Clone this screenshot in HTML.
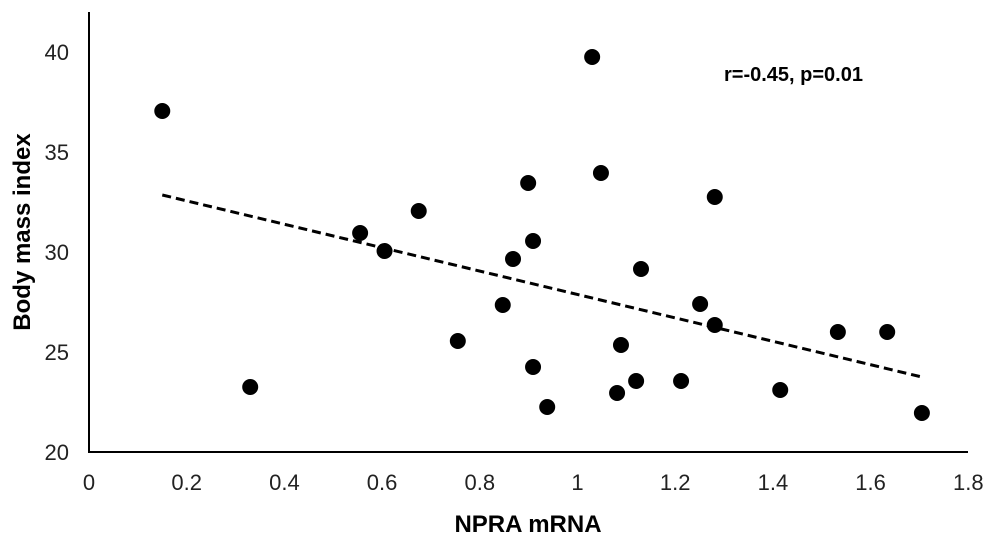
<!DOCTYPE html>
<html><head><meta charset="utf-8"><style>
body{margin:0;background:#fff;}
svg{display:block;font-family:"Liberation Sans",Arial,sans-serif;}
</style></head><body>
<svg id="chart" width="1000" height="539" viewBox="0 0 1000 539">
<g id="axes"></g><g id="marks"></g>
<text x="528" y="532" text-anchor="middle" font-size="24" font-weight="bold">NPRA mRNA</text>
<text transform="translate(30,232) rotate(-90)" text-anchor="middle" font-size="24" font-weight="bold">Body mass index</text>
<text x="724" y="81" font-size="20" font-weight="bold">r=-0.45, p=0.01</text>
</svg>
<script>
const xVals=[0.15,0.33,0.555,0.605,0.675,0.755,0.847,0.868,0.899,0.909,0.909,0.938,1.03,1.048,1.081,1.089,1.12,1.13,1.212,1.251,1.281,1.281,1.415,1.533,1.634,1.705];
const yVals=[37.05,23.25,30.95,30.05,32.05,25.55,27.35,29.65,33.45,30.55,24.25,22.25,39.75,33.95,22.95,25.35,23.55,29.15,23.55,27.4,32.75,26.35,23.1,26.0,26.0,21.95];
const trendX=[0.15,1.705];
const trendY=[32.85,23.75];
const xTicks=[0,0.2,0.4,0.6,0.8,1,1.2,1.4,1.6,1.8];
const yTicks=[20,25,30,35,40];
const NS="http://www.w3.org/2000/svg";
const X=v=>89+v*488.5, Y=v=>452-(v-20)*20;
const axes=document.getElementById('axes'), marks=document.getElementById('marks');
function mk(tag,attrs,parent){const e=document.createElementNS(NS,tag);for(const k in attrs)e.setAttribute(k,attrs[k]);parent.appendChild(e);return e;}
let a=mk('line',{x1:89,y1:12,x2:89,y2:452,stroke:'#000','stroke-width':2},axes);


a=mk('line',{x1:88,y1:452,x2:968,y2:452,stroke:'#000','stroke-width':2},axes);


xTicks.forEach(t=>{const e=mk('text',{x:X(t),y:490,'text-anchor':'middle','font-size':22,fill:'#222'},axes);e.textContent=String(t);

});
yTicks.forEach(t=>{const e=mk('text',{x:69,y:Y(t)+8,'text-anchor':'end','font-size':22,fill:'#222'},axes);e.textContent=String(t);

});
const tl=mk('line',{x1:X(trendX[0]),y1:Y(trendY[0]),x2:X(trendX[1]),y2:Y(trendY[1]),stroke:'#000','stroke-width':3,'stroke-dasharray':'9,5'},marks);


xVals.forEach((v,i)=>{const c=mk('circle',{cx:X(v),cy:Y(yVals[i]),r:8,fill:'#000'},marks);

});
</script>
</body></html>
